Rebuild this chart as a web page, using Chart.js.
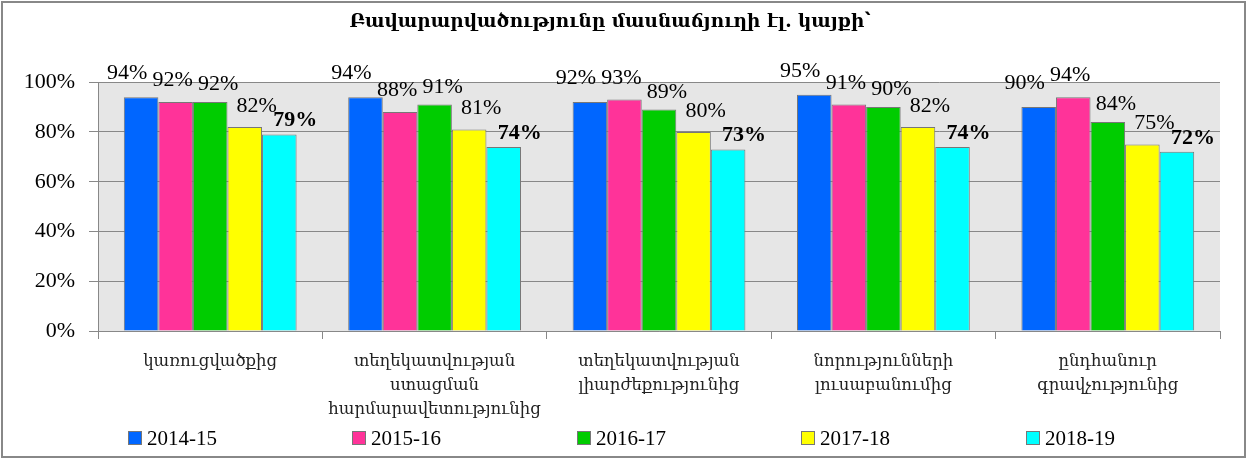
<!DOCTYPE html>
<html>
<head>
<meta charset="utf-8">
<script src="https://cdn.jsdelivr.net/npm/chart.js@4.4.0/dist/chart.umd.min.js"></script>
<style>
  html, body { margin: 0; padding: 0; background: #fff; }
  #wrap { width: 1247px; height: 460px; }
</style>
</head>
<body>
<div id="wrap"><canvas id="myChart"></canvas></div>
<script>
// data
const categories = [
  "կառուցվածքից",
  ["տեղեկատվության", "ստացման", "հարմարավետությունից"],
  ["տեղեկատվության", "լիարժեքությունից"],
  ["նորությունների", "լուսաբանումից"],
  ["ընդհանուր", "գրավչությունից"],
];
const seasons = ["2014-15", "2015-16", "2016-17", "2017-18", "2018-19"];
const colors = ["#0066FF", "#FF3399", "#00CC00", "#FFFF00", "#00FFFF"];

const v2014 = [94, 94, 92, 95, 90];
const v2015 = [92, 88, 93, 91, 94];
const v2016 = [92, 91, 89, 90, 84];
const v2017 = [82, 81, 80, 82, 75];
const v2018 = [79, 74, 73, 74, 72];
const seriesValues = [v2014, v2015, v2016, v2017, v2018];

const yTicks = [0, 20, 40, 60, 80, 100];

const SERIF = "'Liberation Serif', 'DejaVu Serif', serif";
const ARM = "'DejaVu Serif', 'Liberation Serif', serif";

// label nudges, the labels in the source sit a bit off the bar centres
const labelDx = [-14, -3, 8, 12, 16];
const labelGap = [18, 16, 12, 15, 8];

const datasets = seasons.map((s, i) => ({
  label: s,
  data: seriesValues[i],
  backgroundColor: colors[i],
  borderColor: "#777",
  borderWidth: 1,
  categoryPercentage: 0.77,
  barPercentage: 1.0,
}));

const backdrop = {
  id: "backdrop",
  beforeDraw(chart) {
    const { ctx, chartArea: a } = chart;
    ctx.save();
    ctx.fillStyle = "#fff";
    ctx.fillRect(0, 0, chart.width, chart.height);
    ctx.fillStyle = "#e6e6e6";
    ctx.fillRect(a.left, a.top, a.right - a.left, a.bottom - a.top);
    ctx.restore();
  },
  afterDraw(chart) {
    const { ctx, chartArea: a } = chart;
    ctx.save();
    // outer frame
    ctx.strokeStyle = "#888";
    ctx.lineWidth = 2;
    ctx.strokeRect(2, 2, chart.width - 4, chart.height - 5);

    // legend, one item under each category slot
    const step = (a.right - a.left) / categories.length;
    ctx.font = "21px " + SERIF;
    ctx.textBaseline = "middle";
    ctx.textAlign = "left";
    seasons.forEach((s, i) => {
      const x = Math.round(a.left + step * i + 30);
      const y = 431;
      ctx.fillStyle = colors[i];
      ctx.fillRect(x, y, 14, 14);
      ctx.strokeStyle = "#777";
      ctx.lineWidth = 1;
      ctx.strokeRect(x + 0.5, y + 0.5, 13, 13);
      ctx.fillStyle = "#000";
      ctx.fillText(s, x + 19, y + 8);
    });
    ctx.restore();
  },
};

const valueLabels = {
  id: "valueLabels",
  afterDatasetsDraw(chart) {
    const { ctx } = chart;
    ctx.save();
    ctx.fillStyle = "#000";
    ctx.textAlign = "center";
    ctx.textBaseline = "alphabetic";
    chart.data.datasets.forEach((ds, i) => {
      const meta = chart.getDatasetMeta(i);
      ctx.font = (i === 4 ? "bold " : "") + "22px " + SERIF;
      meta.data.forEach((bar, j) => {
        ctx.fillText(ds.data[j] + "%", bar.x + labelDx[i], bar.y - labelGap[i]);
      });
    });
    ctx.restore();
  },
};

new Chart(document.getElementById("myChart"), {
  type: "bar",
  data: { labels: categories, datasets: datasets },
  options: {
    responsive: true,
    maintainAspectRatio: false,
    animation: false,
    layout: { padding: { left: 0, right: 27, top: 0, bottom: 40 } },
    plugins: {
      legend: { display: false },
      tooltip: { enabled: false },
      title: {
        display: true,
        text: "Բավարարվածությունը մասնաճյուղի էլ. կայքի՝",
        color: "#000",
        font: { family: ARM, size: 18.5, weight: "bold", lineHeight: 1.2 },
        padding: { top: 11, bottom: 49 },
      },
    },
    scales: {
      x: {
        afterFit: (s) => { s.height = 89; },
        grid: {
          offset: true,
          drawOnChartArea: false,
          drawTicks: true,
          tickLength: 8,
          color: "#888",
        },
        border: { display: true, color: "#888" },
        ticks: {
          color: "#222",
          padding: 11,
          maxRotation: 0,
          autoSkip: false,
          font: { family: ARM, size: 16.5, lineHeight: 1.45 },
        },
      },
      y: {
        min: 0,
        max: 100,
        afterFit: (s) => { s.width = 98; },
        afterBuildTicks: (s) => { s.ticks = yTicks.map((v) => ({ value: v })); },
        grid: { color: "#888", tickLength: 9, drawTicks: true },
        border: { display: true, color: "#888" },
        ticks: {
          color: "#000",
          padding: 14,
          font: { family: SERIF, size: 22 },
          callback: (v) => v + "%",
        },
      },
    },
  },
  plugins: [backdrop, valueLabels],
});
</script>
</body>
</html>
